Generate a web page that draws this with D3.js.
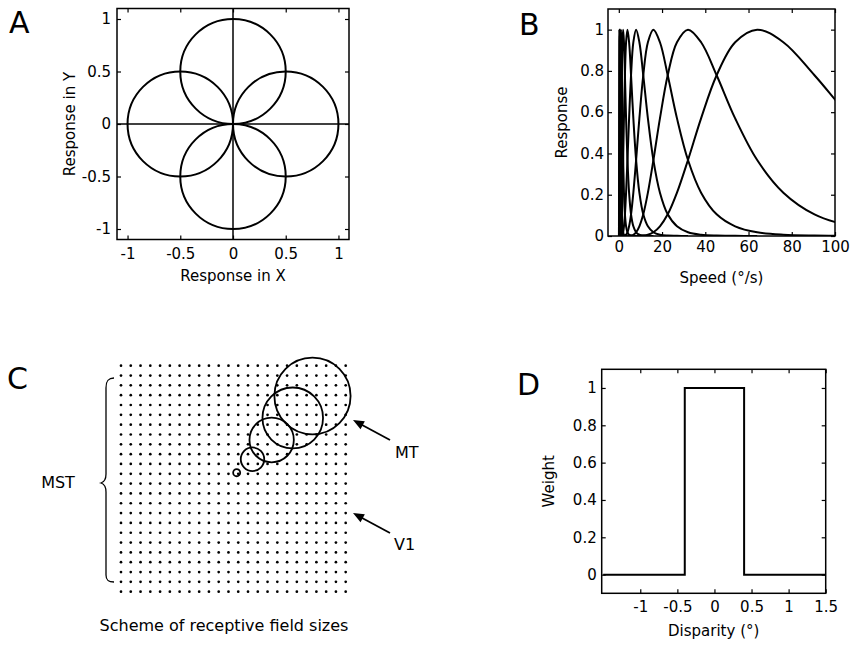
<!DOCTYPE html>
<html>
<head>
<meta charset="utf-8">
<script src="https://cdn.jsdelivr.net/npm/d3@7"></script>
<style>
  body { margin: 0; background: #fff; }
  text { font-family: "DejaVu Sans", sans-serif; fill: #000; }
</style>
</head>
<body>
<svg id="fig" width="851" height="650"></svg>
<script>
// panel A: polar tuning curves (circles through the origin)
var dirCx = [0.5, 0, -0.5, 0];
var dirCy = [0, 0.5, 0, -0.5];
var dirR = [0.5, 0.5, 0.5, 0.5];
var ticksA = [-1, -0.5, 0, 0.5, 1];

// panel B: speed tuning, one shape (read at log2 offsets) shifted to each peak
var speedPeaks = [0.25, 0.5, 1, 2, 4, 8, 16, 32, 64];
var shapeOffsets = [-3, -2.75, -2.5, -2.25, -2, -1.75, -1.5, -1.25, -1, -0.75, -0.5, -0.25, 0,
                    0.25, 0.5, 0.75, 1, 1.25, 1.5, 1.75, 2, 2.25, 2.5, 2.75, 3];
var shapeResp = [0, 0.001, 0.002, 0.006, 0.018, 0.047, 0.105, 0.21, 0.368, 0.57, 0.779, 0.939, 1,
                 0.939, 0.779, 0.57, 0.368, 0.21, 0.105, 0.047, 0.018, 0.006, 0.002, 0.001, 0];
var ticksBx = [0, 20, 40, 60, 80, 100];
var ticksBy = [0, 0.2, 0.4, 0.6, 0.8, 1];

// panel C: receptive field scheme (grid units)
var gridN = 24;
var rfCx = [11.84, 13.46, 15.42, 17.58, 19.6];
var rfCy = [10.89, 9.52, 7.56, 5.32, 3.08];
var rfR = [0.36, 1.2, 2.27, 3.1, 3.9];

// panel D: disparity weighting
var dispX = [-1.5, -0.4, -0.4, 0.4, 0.4, 1.5];
var dispW = [0, 0, 1, 1, 0, 0];
var ticksDx = [-1, -0.5, 0, 0.5, 1, 1.5];
var ticksDy = [0, 0.2, 0.4, 0.6, 0.8, 1];

var svg = d3.select('#fig');

// plain hyphen for negatives, like the original
function fmt(d) { return String(d); }

function panel(x, y, opt) {
  var g = svg.append('g');
  var x0 = x.range()[0], x1 = x.range()[1];
  var y0 = y.range()[0], y1 = y.range()[1];

  // inward ticks on all four sides
  g.append('g').attr('transform', 'translate(0,' + y0 + ')')
    .call(d3.axisBottom(x).tickValues(opt.xt).tickSize(-4).tickPadding(opt.xpad).tickFormat(fmt));
  g.append('g').attr('transform', 'translate(0,' + y1 + ')')
    .call(d3.axisTop(x).tickValues(opt.xt).tickSize(-4).tickFormat(''));
  g.append('g').attr('transform', 'translate(' + x0 + ',0)')
    .call(d3.axisLeft(y).tickValues(opt.yt).tickSize(-4).tickPadding(opt.ypad).tickFormat(fmt));
  g.append('g').attr('transform', 'translate(' + x1 + ',0)')
    .call(d3.axisRight(y).tickValues(opt.yt).tickSize(-4).tickFormat(''));
  g.selectAll('.domain').remove();
  g.selectAll('.tick line').attr('stroke', '#000').attr('stroke-width', 1.2);
  g.selectAll('.tick text').style('font-size', '15px').attr('fill', '#000');

  g.append('rect')
    .attr('x', x0).attr('y', y1)
    .attr('width', x1 - x0).attr('height', y0 - y1)
    .attr('fill', 'none').attr('stroke', '#000').attr('stroke-width', 1.5);

  g.append('text').attr('x', (x0 + x1) / 2).attr('y', opt.xly)
    .attr('text-anchor', 'middle').style('font-size', '15px').text(opt.xl);
  g.append('text')
    .attr('transform', 'translate(' + opt.ylx + ',' + (y0 + y1) / 2 + ') rotate(-90)')
    .attr('text-anchor', 'middle').style('font-size', '15px').text(opt.yl);
  return g;
}

function letter(t, x, y) {
  svg.append('text').attr('x', x).attr('y', y).style('font-size', '30px').text(t);
}

// ---- A ----
var xA = d3.scaleLinear().domain([-1.1, 1.1]).range([117, 349]);
var yA = d3.scaleLinear().domain([-1.1, 1.1]).range([239.5, 8.5]);
var gA = panel(xA, yA, {xt: ticksA, yt: ticksA, xpad: 9, ypad: 6,
  xl: 'Response in X', xly: 281, yl: 'Response in Y', ylx: 75});
gA.append('line').attr('x1', xA(-1.1)).attr('x2', xA(1.1)).attr('y1', yA(0)).attr('y2', yA(0))
  .attr('stroke', '#000').attr('stroke-width', 1.5);
gA.append('line').attr('x1', xA(0)).attr('x2', xA(0)).attr('y1', yA(-1.1)).attr('y2', yA(1.1))
  .attr('stroke', '#000').attr('stroke-width', 1.5);
gA.selectAll('ellipse.dir').data(dirCx).enter().append('ellipse')
  .attr('cx', function(d) { return xA(d); })
  .attr('cy', function(d, i) { return yA(dirCy[i]); })
  .attr('rx', function(d, i) { return xA(dirR[i]) - xA(0); })
  .attr('ry', function(d, i) { return yA(0) - yA(dirR[i]); })
  .attr('fill', 'none').attr('stroke', '#000').attr('stroke-width', 2);
letter('A', 9, 33);

// ---- B ----
var xB = d3.scaleLinear().domain([-5, 100]).range([608, 835]);
var yB = d3.scaleLinear().domain([0, 1.1]).range([236, 9]);
var gB = panel(xB, yB, {xt: ticksBx, yt: ticksBy, xpad: 5, ypad: 4,
  xl: 'Speed (°/s)', xly: 283, yl: 'Response', ylx: 567});
svg.append('clipPath').attr('id', 'clipB').append('rect')
  .attr('x', 608).attr('y', 9).attr('width', 227).attr('height', 227);
var lineB = d3.line()
  .x(function(d) { return xB(d[0]); })
  .y(function(d) { return yB(d[1]); })
  .curve(d3.curveCatmullRom);
gB.append('g').attr('clip-path', 'url(#clipB)')
  .selectAll('path').data(speedPeaks).enter().append('path')
  .attr('d', function(p) {
    return lineB(shapeOffsets.map(function(o, i) { return [p * Math.pow(2, o), shapeResp[i]]; }));
  })
  .attr('fill', 'none').attr('stroke', '#000').attr('stroke-width', 2);
letter('B', 519, 35);

// ---- C ----
var xC = d3.scaleLinear().domain([0, gridN - 1]).range([121, 345.7]);
var yC = d3.scaleLinear().domain([0, gridN - 1]).range([365.7, 591.7]);
var gridPts = d3.cross(d3.range(gridN), d3.range(gridN));
svg.append('g').selectAll('circle').data(gridPts).enter().append('circle')
  .attr('cx', function(d) { return xC(d[0]); })
  .attr('cy', function(d) { return yC(d[1]); })
  .attr('r', 1.35).attr('fill', '#000');
svg.append('g').selectAll('ellipse').data(rfCx).enter().append('ellipse')
  .attr('cx', function(d) { return xC(d); })
  .attr('cy', function(d, i) { return yC(rfCy[i]); })
  .attr('rx', function(d, i) { return xC(rfR[i]) - xC(0); })
  .attr('ry', function(d, i) { return yC(rfR[i]) - yC(0); })
  .attr('fill', 'none').attr('stroke', '#000').attr('stroke-width', 1.8);

// brace
var br = d3.path();
br.moveTo(114, 378);
br.bezierCurveTo(108, 378, 106, 381, 106, 388);
br.lineTo(106, 474);
br.bezierCurveTo(106, 479, 104, 482, 101, 483);
br.bezierCurveTo(104, 484, 106, 487, 106, 492);
br.lineTo(106, 575);
br.bezierCurveTo(106, 580, 108, 582, 114, 582);
svg.append('path').attr('d', br.toString()).attr('fill', 'none').attr('stroke', '#000').attr('stroke-width', 1.3);

function arrow(xs, ys, xe, ye) {
  var a = Math.atan2(ye - ys, xe - xs), L = 11, W = 4.5;
  svg.append('line').attr('x1', xs).attr('y1', ys)
    .attr('x2', xe - L * 0.8 * Math.cos(a)).attr('y2', ye - L * 0.8 * Math.sin(a))
    .attr('stroke', '#000').attr('stroke-width', 1.8);
  var bx = xe - L * Math.cos(a), by = ye - L * Math.sin(a);
  svg.append('path')
    .attr('d', 'M' + xe + ',' + ye +
      'L' + (bx + W * Math.sin(a)) + ',' + (by - W * Math.cos(a)) +
      'L' + (bx - W * Math.sin(a)) + ',' + (by + W * Math.cos(a)) + 'Z')
    .attr('fill', '#000');
}
arrow(390, 440, 353, 420);
arrow(390, 533, 353, 513);

svg.append('text').attr('x', 58).attr('y', 488).attr('text-anchor', 'middle').style('font-size', '16px').text('MST');
svg.append('text').attr('x', 395).attr('y', 458).style('font-size', '16px').text('MT');
svg.append('text').attr('x', 394).attr('y', 550).style('font-size', '16px').text('V1');
svg.append('text').attr('x', 224).attr('y', 631).attr('text-anchor', 'middle').style('font-size', '16px')
  .text('Scheme of receptive field sizes');
letter('C', 7, 389);

// ---- D ----
var xD = d3.scaleLinear().domain([-1.52, 1.5]).range([601.7, 825.7]);
var yD = d3.scaleLinear().domain([-0.1, 1.1]).range([593.3, 369.3]);
var gD = panel(xD, yD, {xt: ticksDx, yt: ticksDy, xpad: 8, ypad: 5,
  xl: 'Disparity (°)', xly: 636, yl: 'Weight', ylx: 554});
gD.append('path')
  .attr('d', d3.line()
    .x(function(d, i) { return xD(d); })
    .y(function(d, i) { return yD(dispW[i]); })(dispX))
  .attr('fill', 'none').attr('stroke', '#000').attr('stroke-width', 2);
letter('D', 517, 395);
</script>
</body>
</html>
